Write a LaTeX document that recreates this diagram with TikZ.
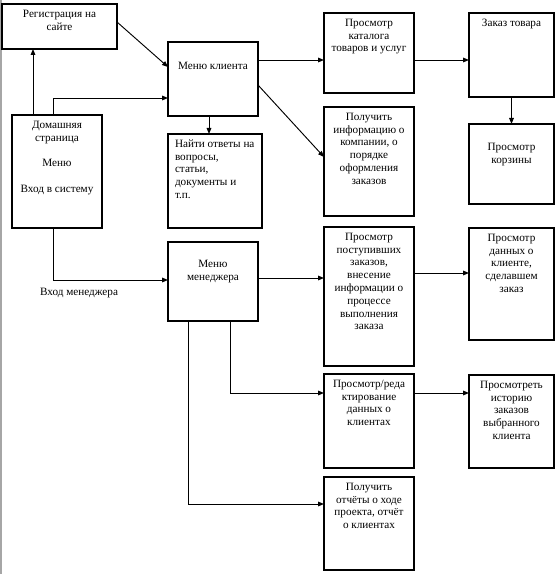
\documentclass[tikz,border=0pt]{standalone}
\usepackage{fontspec}
\setmainfont{Liberation Serif}
\usetikzlibrary{arrows.meta}
\newdimen\px \px=0.75pt
\newcommand{\btxt}[4]{\parbox[c][#2\px][t]{#1\px}{\centering\rule{0pt}{#3pt}#4\par}}
\newcommand{\btxtl}[4]{\parbox[c][#2\px][t]{#1\px}{\raggedright\leftskip=5.25pt\rule{0pt}{#3pt}#4\par}}
\tikzset{
  blk/.style={draw=black,line width=0.8pt,inner sep=0pt,outer sep=0pt,anchor=north west,
    font=\fontsize{8.4}{9.6}\selectfont},
  lbl/.style={inner sep=1pt,font=\fontsize{8.4}{9.6}\selectfont},
  arr/.style={line width=0.7pt,-{Triangle[length=4.5pt,width=3.5pt]}},
}
\begin{document}
\begin{tikzpicture}[x=0.75pt,y=-0.75pt]
\useasboundingbox (0,0) rectangle (555,574);
\draw[gray!70,line width=1.5pt] (1,0) -- (1,574);
\node[blk] (reg) at (2,4) {\btxt{115}{45}{10}{Регистрация на\\сайте}};
\node[blk] (home) at (12,115) {\btxt{90}{113}{10}{Домашняя\\страница\\[9.6pt]Меню\\[9.6pt]Вход в систему}};
\node[blk] (menuC) at (168,42) {\btxt{90}{74}{20.5}{Меню клиента}};
\node[blk] (find) at (168,134) {\btxtl{94}{94}{10}{Найти ответы на\\вопросы,\\статьи,\\документы и\\т.п.}};
\node[blk] (catalog) at (324,13) {\btxt{90}{80}{10}{Просмотр\\каталога\\товаров и услуг}};
\node[blk] (order) at (469,13) {\btxt{85}{84}{10}{Заказ товара}};
\node[blk] (cart) at (469,124) {\btxt{85}{80}{20}{Просмотр\\корзины}};
\node[blk] (info) at (324,107) {\btxt{90}{109}{10}{Получить\\информацию о\\компании, о\\порядке\\оформления\\заказов}};
\node[blk] (menuM) at (168,242) {\btxt{90}{79}{19}{Меню\\менеджера}};
\node[blk] (incoming) at (324,227) {\btxt{90}{139}{10}{Просмотр\\поступивших\\заказов,\\внесение\\информации о\\процессе\\выполнения\\заказа}};
\node[blk] (clientdata) at (469,228) {\btxt{85}{112}{10}{Просмотр\\данных о\\клиенте,\\сделавшем\\заказ}};
\node[blk] (edit) at (324,374) {\btxt{90}{94}{10}{Просмотр/реда\\ктирование\\данных о\\клиентах}};
\node[blk] (history) at (469,375) {\btxt{85}{93}{10}{Просмотреть\\историю\\заказов\\выбранного\\клиента}};
\node[blk] (reports) at (324,477) {\btxt{90}{93}{10}{Получить\\отчёты о ходе\\проекта, отчёт\\о клиентах}};
\node[lbl] (lblM) at (79,293) {Вход менеджера};
\draw[arr] (33,0 |- home.north) -- (33,0 |- reg.south);
\draw[arr] (53,0 |- home.north) -- (53,98) -- (menuC.west |- 0,98);
\draw[arr] (reg.east |- 0,22) -- (menuC.west |- 0,67);
\draw[arr] (209,0 |- menuC.south) -- (209,0 |- find.north);
\draw[arr] (menuC.east |- 0,60) -- (catalog.west |- 0,60);
\draw[arr] (catalog.east |- 0,60) -- (order.west |- 0,60);
\draw[arr] (order.south) -- (cart.north);
\draw[arr] (menuC.east |- 0,85) -- (info.west |- 0,157);
\draw[arr] (53,0 |- home.south) -- (53,280) -- (menuM.west |- 0,280);
\draw[arr] (menuM.east |- 0,278) -- (incoming.west |- 0,278);
\draw[arr] (incoming.east |- 0,273) -- (clientdata.west |- 0,273);
\draw[arr] (230,0 |- menuM.south) -- (230,393) -- (edit.west |- 0,393);
\draw[arr] (edit.east |- 0,393) -- (history.west |- 0,393);
\draw[arr] (188,0 |- menuM.south) -- (188,504) -- (reports.west |- 0,504);
\end{tikzpicture}
\end{document}
